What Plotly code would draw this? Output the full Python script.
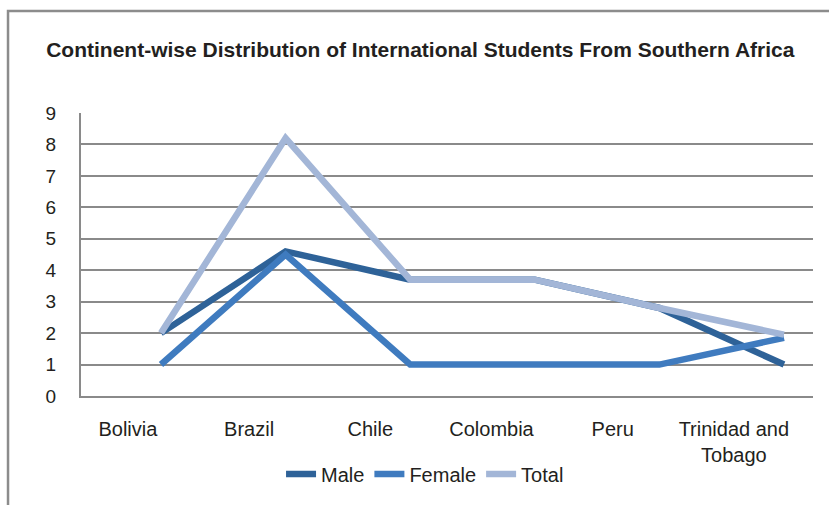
import plotly.graph_objects as go

# Countries on the category axis
countries = ["Bolivia", "Brazil", "Chile", "Colombia", "Peru", "Trinidad and<br>Tobago"]

# Number of students per country
male = [2, 4.6, 3.7, 3.7, 2.8, 1]
female = [1, 4.5, 1, 1, 1, 1.85]
total = [2, 8.2, 3.7, 3.7, 2.8, 1.95]

y_ticks = list(range(0, 10))

series = [
    ("Male", male, "#2E6298"),
    ("Female", female, "#3F7BBF"),
    ("Total", total, "#A3B6D7"),
]

FONT = "Liberation Sans, Arial, sans-serif"
TEXT = "#231F20"
GRID = "#8A8A8A"

idx = list(range(len(countries)))

fig = go.Figure()

# invisible trace so the labelled category axis gets drawn
fig.add_trace(go.Scatter(
    x=idx, y=total, mode="none", showlegend=False, hoverinfo="skip",
    xaxis="x", yaxis="y",
))

for name, vals, color in series:
    fig.add_trace(go.Scatter(
        x=idx, y=vals, name=name, mode="lines",
        line=dict(color=color, width=6.5, shape="linear"),
        xaxis="x2", yaxis="y",
    ))

fig.update_layout(
    width=829, height=505,
    margin=dict(l=81, r=16, t=113, b=109),
    paper_bgcolor="white", plot_bgcolor="white",
    font=dict(family=FONT, color=TEXT, size=20),
    title=dict(
        text="<b>Continent-wise Distribution of International Students From Southern Africa</b>",
        font=dict(family=FONT, size=21, color=TEXT),
        x=0.507, xanchor="center", y=0.901, yanchor="middle",
    ),
    # category labels
    xaxis=dict(
        range=[-0.387, 5.653], tickmode="array", tickvals=idx, ticktext=countries,
        showgrid=False, zeroline=False, showline=True, linecolor=GRID, linewidth=2,
        ticks="", ticklabelstandoff=14, tickfont=dict(size=20, color=TEXT),
        fixedrange=True,
    ),
    # axis carrying the series lines
    xaxis2=dict(
        range=[-0.642, 5.233], overlaying="x", visible=False, fixedrange=True,
    ),
    yaxis=dict(
        range=[0, 9], tickmode="array", tickvals=y_ticks,
        showgrid=True, gridcolor=GRID, gridwidth=2,
        zeroline=False, showline=True, linecolor=GRID, linewidth=2,
        ticks="", ticklabelstandoff=19, tickfont=dict(size=19, color=TEXT),
        fixedrange=True,
    ),
    legend=dict(
        orientation="h", x=0.47, xanchor="center", y=-0.276, yanchor="middle",
        font=dict(size=20, color=TEXT), itemwidth=30, tracegroupgap=0,
        bgcolor="rgba(0,0,0,0)",
    ),
    showlegend=True,
    shapes=[dict(
        type="rect", xref="paper", yref="paper",
        x0=-0.0997, x1=1.05, y0=-0.45, y1=1.360,
        line=dict(color="#8C8C8C", width=2.5), fillcolor="rgba(0,0,0,0)",
        layer="below",
    )],
)

fig.write_html("out.html")
